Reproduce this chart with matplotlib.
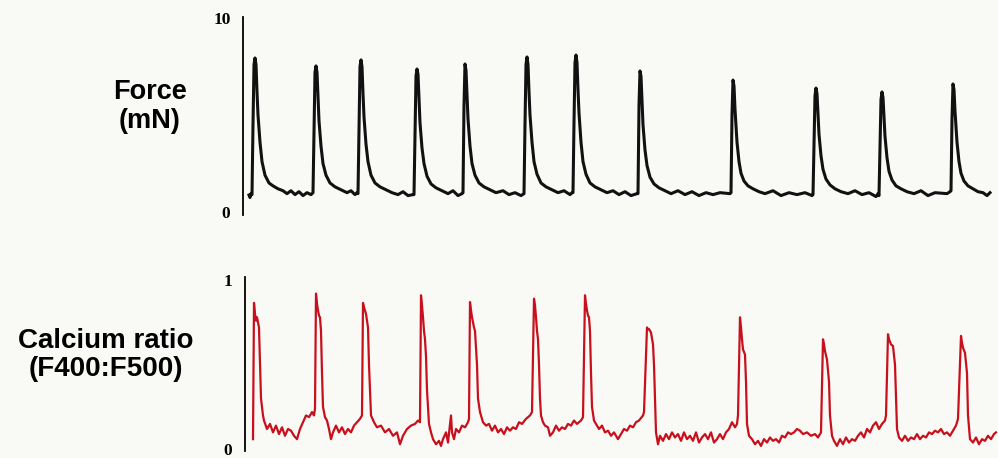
import numpy as np
import matplotlib.pyplot as plt

force_trace = [
    (6, 0.88), (7, 0.75), (8, 0.95), (9, 0.9),
    (10, 4.5), (11, 7.6), (12, 7.94), (13, 7.6), (14, 6.2), (15, 5.0), (17, 3.6), (19, 2.6),
    (22, 1.9), (26, 1.5), (30, 1.35), (35, 1.2), (40, 1.1), (44, 0.95), (48, 1.1), (52, 0.9),
    (56, 1.05), (60, 0.85), (64, 1.0), (68, 0.9),
    (70, 1.0), (71, 4.0), (72, 7.2), (73, 7.53), (74, 7.2), (75, 5.9), (76, 4.7), (78, 3.4),
    (80, 2.5), (83, 1.9), (87, 1.5), (92, 1.3), (98, 1.15), (104, 1.0), (108, 1.1), (112, 0.9),
    (114, 1.0),
    (115, 0.95), (116, 4.2), (117, 7.5), (118, 7.84), (119, 7.5), (120, 6.1), (121, 4.9),
    (123, 3.5), (125, 2.6), (128, 1.9), (132, 1.5), (137, 1.3), (143, 1.15), (149, 1.0),
    (155, 0.9), (160, 1.05), (165, 0.85), (170, 0.9),
    (171, 0.9), (172, 4.0), (173, 7.0), (174, 7.37), (175, 7.1), (176, 5.8), (177, 4.6),
    (179, 3.3), (181, 2.5), (184, 1.85), (188, 1.45), (193, 1.25), (199, 1.1), (205, 0.95),
    (210, 1.1), (215, 0.85), (219, 0.95),
    (220, 1.0), (221, 5.5), (222, 7.63), (223, 7.3), (224, 6.0), (225, 4.8), (227, 3.4),
    (229, 2.5), (232, 1.9), (236, 1.5), (241, 1.3), (247, 1.15), (253, 1.0), (260, 1.1),
    (266, 0.9), (272, 1.0), (278, 0.85),
    (281, 0.95), (282, 4.5), (283, 7.6), (284, 7.99), (285, 7.6), (286, 6.2), (287, 5.0),
    (289, 3.6), (291, 2.6), (294, 1.95), (298, 1.5), (303, 1.3), (309, 1.15), (315, 1.0),
    (321, 1.1), (327, 0.9), (329, 1.0),
    (330, 1.0), (331, 4.6), (332, 7.7), (333, 8.09), (334, 7.7), (335, 6.3), (336, 5.1),
    (338, 3.6), (340, 2.6), (343, 1.95), (347, 1.5), (352, 1.3), (358, 1.15), (364, 1.0),
    (370, 1.1), (376, 0.9), (382, 1.05), (388, 0.85), (394, 0.95),
    (395, 0.95), (396, 5.5), (397, 7.27), (398, 7.0), (399, 5.7), (400, 4.5), (402, 3.2),
    (404, 2.4), (407, 1.8), (411, 1.45), (416, 1.25), (422, 1.1), (428, 0.95), (435, 1.1),
    (442, 0.9), (449, 1.05), (456, 0.85), (463, 1.0), (470, 0.9), (477, 1.0), (487, 0.95),
    (488, 1.0), (489, 5.0), (490, 6.8), (491, 6.5), (492, 5.3), (494, 3.6), (496, 2.6),
    (498, 2.0), (501, 1.6), (505, 1.35), (510, 1.2), (516, 1.05), (522, 0.95), (530, 1.1),
    (538, 0.85), (546, 1.0), (554, 0.9), (562, 1.0), (569, 0.85),
    (570, 0.9), (571, 3.5), (572, 6.0), (573, 6.39), (574, 6.1), (575, 5.0), (576, 4.0),
    (578, 2.9), (580, 2.2), (583, 1.7), (587, 1.4), (592, 1.2), (598, 1.05), (605, 0.95),
    (612, 1.1), (619, 0.9), (626, 1.0), (633, 0.8), (635, 0.95),
    (636, 0.85), (637, 3.4), (638, 5.8), (639, 6.19), (640, 5.9), (641, 4.9), (642, 3.9),
    (644, 2.8), (646, 2.1), (649, 1.65), (653, 1.35), (658, 1.2), (664, 1.05), (671, 0.95),
    (678, 1.1), (685, 0.85), (692, 1.0), (704, 0.95), (707, 1.05),
    (708, 1.1), (709, 4.8), (710, 6.6), (711, 6.3), (712, 5.2), (714, 3.6), (716, 2.6),
    (718, 2.0), (721, 1.6), (725, 1.35), (730, 1.2), (735, 1.05), (740, 1.0), (744, 0.85),
    (747, 1.0),
]

calcium_trace = [
    (10, 0.06), (10.5, 0.5), (11, 0.865), (12, 0.80), (13, 0.76), (14, 0.78), (15, 0.75),
    (16, 0.72), (17, 0.5), (18, 0.3), (20, 0.2), (21, 0.17), (24, 0.12), (27, 0.15), (30, 0.1),
    (33, 0.14), (36, 0.09), (39, 0.13), (42, 0.08), (45, 0.12), (48, 0.11), (51, 0.08),
    (54, 0.06), (57, 0.12), (60, 0.16), (63, 0.2), (66, 0.19), (69, 0.22), (71, 0.2), (72, 0.24),
    (73, 0.92), (74, 0.86), (75, 0.82), (76, 0.79), (77, 0.78), (78, 0.7), (79, 0.45),
    (80, 0.25), (82, 0.19), (84, 0.17), (86, 0.12), (88, 0.06), (90, 0.1), (93, 0.14),
    (96, 0.1), (99, 0.13), (102, 0.09), (105, 0.12), (108, 0.1), (111, 0.14), (114, 0.16),
    (117, 0.18), (119, 0.2),
    (120, 0.865), (121, 0.84), (122, 0.82), (123, 0.80), (125, 0.72), (126, 0.5), (127, 0.35),
    (128, 0.2), (131, 0.16), (134, 0.13), (138, 0.14), (142, 0.1), (146, 0.12), (150, 0.08),
    (154, 0.1), (157, 0.03), (160, 0.08), (164, 0.12), (168, 0.14), (172, 0.15), (175, 0.17),
    (177, 0.16),
    (178, 0.91), (179, 0.85), (180, 0.78), (181, 0.7), (182, 0.65), (183, 0.55), (184, 0.35),
    (186, 0.15), (188, 0.1), (190, 0.06), (193, 0.03), (196, 0.05), (198, 0.02), (200, 0.06),
    (203, 0.1), (205, 0.04), (207, 0.15), (208, 0.2), (209, 0.1), (211, 0.06), (213, 0.12),
    (216, 0.1), (219, 0.14), (222, 0.13), (225, 0.16), (226, 0.18),
    (227, 0.87), (228, 0.82), (229, 0.78), (231, 0.72), (232, 0.70), (234, 0.5), (235, 0.3),
    (237, 0.22), (240, 0.16), (243, 0.14), (246, 0.15), (249, 0.11), (252, 0.14), (255, 0.1),
    (258, 0.12), (261, 0.09), (264, 0.13), (267, 0.11), (270, 0.13), (273, 0.12), (276, 0.16),
    (279, 0.15), (283, 0.18), (287, 0.2), (289, 0.22),
    (291, 0.89), (292, 0.85), (293, 0.78), (294, 0.7), (295, 0.65), (296, 0.5), (297, 0.3),
    (298, 0.2), (300, 0.16), (302, 0.14), (305, 0.13), (307, 0.08), (310, 0.1), (313, 0.14),
    (316, 0.11), (319, 0.13), (322, 0.12), (325, 0.15), (328, 0.14), (331, 0.17), (334, 0.15),
    (338, 0.17), (340, 0.19),
    (342, 0.91), (343, 0.86), (344, 0.82), (345, 0.79), (346, 0.78), (347, 0.7), (348, 0.45),
    (349, 0.25), (351, 0.17), (353, 0.15), (356, 0.12), (359, 0.14), (362, 0.1), (365, 0.11),
    (368, 0.08), (371, 0.1), (375, 0.06), (378, 0.09), (381, 0.12), (384, 0.11), (387, 0.14),
    (390, 0.13), (393, 0.16), (396, 0.17), (400, 0.2), (401, 0.22),
    (404, 0.72), (405, 0.71), (406, 0.71), (408, 0.69), (410, 0.62), (411, 0.5), (412, 0.3),
    (413, 0.1), (415, 0.03), (417, 0.08), (420, 0.05), (423, 0.09), (426, 0.06), (429, 0.1),
    (432, 0.07), (435, 0.09), (438, 0.05), (441, 0.1), (444, 0.06), (447, 0.08), (450, 0.05),
    (453, 0.1), (456, 0.04), (459, 0.07), (462, 0.09), (465, 0.06), (468, 0.1), (471, 0.04),
    (474, 0.06), (477, 0.09), (480, 0.06), (483, 0.1), (486, 0.12), (489, 0.16), (492, 0.13),
    (494, 0.15), (495, 0.2),
    (497, 0.78), (498, 0.72), (499, 0.65), (500, 0.59), (502, 0.56), (503, 0.4), (504, 0.15),
    (506, 0.08), (509, 0.06), (512, 0.03), (515, 0.05), (518, 0.02), (521, 0.06), (524, 0.04),
    (527, 0.07), (530, 0.05), (533, 0.06), (536, 0.04), (539, 0.08), (542, 0.07), (545, 0.1),
    (548, 0.09), (551, 0.1), (554, 0.12), (557, 0.11), (560, 0.09), (564, 0.1), (568, 0.08),
    (572, 0.09), (575, 0.07), (578, 0.1),
    (580, 0.65), (581, 0.62), (582, 0.58), (584, 0.53), (586, 0.4), (587, 0.2), (589, 0.08),
    (591, 0.05), (594, 0.02), (597, 0.06), (600, 0.03), (603, 0.07), (606, 0.04), (609, 0.06),
    (612, 0.05), (615, 0.08), (618, 0.1), (621, 0.07), (624, 0.12), (627, 0.1), (630, 0.14),
    (633, 0.16), (636, 0.12), (639, 0.15), (642, 0.17), (643, 0.2),
    (645, 0.68), (646, 0.65), (648, 0.62), (650, 0.61), (652, 0.5), (653, 0.3), (654, 0.12),
    (656, 0.07), (659, 0.05), (662, 0.08), (665, 0.05), (668, 0.07), (671, 0.06), (674, 0.09),
    (677, 0.06), (680, 0.08), (683, 0.07), (686, 0.1), (689, 0.09), (692, 0.11), (695, 0.1),
    (698, 0.12), (701, 0.09), (704, 0.1), (707, 0.08), (710, 0.11), (713, 0.14), (715, 0.18),
    (718, 0.67), (719, 0.63), (720, 0.6), (722, 0.57), (724, 0.45), (725, 0.2), (727, 0.06),
    (730, 0.04), (733, 0.07), (736, 0.03), (739, 0.06), (742, 0.05), (745, 0.08), (748, 0.06),
    (751, 0.09), (753, 0.1),
]

force_ticks = [0, 10]
calcium_ticks = [0, 1]
force_label = "Force\n(mN)"
calcium_label = "Calcium ratio\n(F400:F500)"

W, H = 998, 458
bg = "#f9f9f6"

fig = plt.figure(figsize=(W / 100, H / 100), dpi=100, facecolor=bg)

# axes placed in pixel coordinates of the reference
ax_f = fig.add_axes([243 / W, 1 - 215 / H, 753 / W, (215 - 17) / H])
ax_c = fig.add_axes([245 / W, 1 - 451 / H, 753 / W, (451 - 277) / H])

t_f, v_f = np.array(force_trace).T
t_c, v_c = np.array(calcium_trace).T

ax_f.plot(t_f, v_f, color="#111111", lw=2.2, solid_joinstyle="round")
ax_c.plot(t_c, v_c, color="#c8101c", lw=1.6, solid_joinstyle="round")

ax_f.set_xlim(0, 753)
ax_f.set_ylim(-0.15, 10.05)
ax_c.set_xlim(2, 755)
ax_c.set_ylim(-0.01, 1.018)

for ax, ticks in [(ax_f, force_ticks), (ax_c, calcium_ticks)]:
    ax.set_facecolor("none")
    for s in ["top", "right", "bottom"]:
        ax.spines[s].set_visible(False)
    ax.spines["left"].set_linewidth(1.3)
    ax.set_xticks([])
    ax.set_yticks(ticks)
    ax.set_yticklabels([str(t) for t in ticks], fontfamily="Liberation Serif",
                       fontweight="bold", fontsize=12.5)
    ax.tick_params(axis="y", length=0, pad=9)

fig.text(150 / W, 1 - 107 / H, force_label, ha="center", va="center",
         fontsize=19.5, fontweight="bold", fontfamily="Liberation Sans", linespacing=1.15)
fig.text(106 / W, 1 - 355 / H, calcium_label, ha="center", va="center",
         fontsize=20, fontweight="bold", fontfamily="Liberation Sans", linespacing=1.15)

plt.savefig("out.png", dpi=100, facecolor=bg)
